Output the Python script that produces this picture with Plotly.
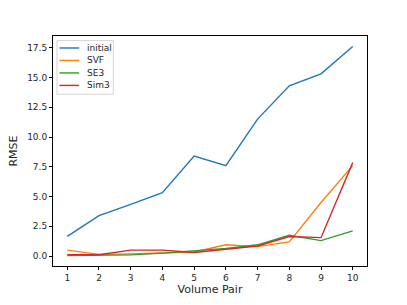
import plotly.graph_objects as go

volume_pair = [1, 2, 3, 4, 5, 6, 7, 8, 9, 10]
initial = [1.65, 3.4, 4.35, 5.33, 8.4, 7.6, 11.5, 14.3, 15.3, 17.6]
svf = [0.5, 0.15, 0.18, 0.25, 0.35, 0.95, 0.8, 1.2, 4.5, 7.6]
se3 = [0.05, 0.05, 0.1, 0.25, 0.45, 0.65, 0.95, 1.75, 1.3, 2.12]
sim3 = [0.12, 0.12, 0.5, 0.5, 0.3, 0.55, 0.85, 1.65, 1.55, 7.85]

series_names = ["initial", "SVF", "SE3", "Sim3"]
series_values = [initial, svf, se3, sim3]
series_colors = ["#1f77b4", "#ff7f0e", "#2ca02c", "#d62728"]

W, H = 407, 305
L, R, T, B = 51, 40, 36, 33
pw, ph = W - L - R, H - T - B

fig = go.Figure()
for name, ys, color in zip(series_names, series_values, series_colors):
    fig.add_trace(go.Scatter(x=volume_pair, y=ys, mode="lines", name=name,
                             line=dict(color=color, width=1.4), showlegend=False))

# matplotlib-like legend drawn in paper coordinates
def px_x(px):
    return (px - L) / pw

def px_y(py):
    return (H - B - py) / ph

shapes = [dict(type="rect", xref="paper", yref="paper",
               x0=px_x(55), x1=px_x(111.7), y0=px_y(95.7), y1=px_y(40.7),
               line=dict(color="#d6d6d6", width=1), fillcolor="rgba(255,255,255,0.8)",
               layer="above")]
annotations = []
for i, (name, color) in enumerate(zip(series_names, series_colors)):
    yy = px_y(48.3 + i * 12.8)
    shapes.append(dict(type="line", xref="paper", yref="paper",
                       x0=px_x(57.5), x1=px_x(77.3), y0=yy, y1=yy,
                       line=dict(color=color, width=1.4), layer="above"))
    annotations.append(dict(xref="paper", yref="paper", x=px_x(83.3), y=yy,
                            xanchor="left", yanchor="middle", text=name, showarrow=False,
                            font=dict(family="DejaVu Sans", size=9, color="#262626")))

font = dict(family="DejaVu Sans", size=9, color="#262626")
fig.update_layout(
    width=W, height=H,
    margin=dict(l=L, r=R, t=T, b=B),
    paper_bgcolor="white", plot_bgcolor="white",
    font=font,
    showlegend=False,
    shapes=shapes,
    annotations=annotations,
)
fig.update_xaxes(range=[0.55, 10.45], tickvals=volume_pair, ticktext=[str(v) for v in volume_pair],
                 showgrid=False, zeroline=False, showline=True, mirror=True,
                 linecolor="black", linewidth=1, ticks="outside", ticklen=3,
                 tickcolor="black", title=dict(text="Volume Pair", standoff=3))
fig.update_yaxes(range=[-0.83, 18.48], tick0=0, dtick=2.5, tickformat=".1f",
                 showgrid=False, zeroline=False, showline=True, mirror=True,
                 linecolor="black", linewidth=1, ticks="outside", ticklen=3,
                 tickcolor="black", title=dict(text="RMSE", standoff=7))

fig.write_html("out.html",
               config={"displayModeBar": False},
               post_script="document.body.style.margin='0';document.body.style.overflow='hidden';")
